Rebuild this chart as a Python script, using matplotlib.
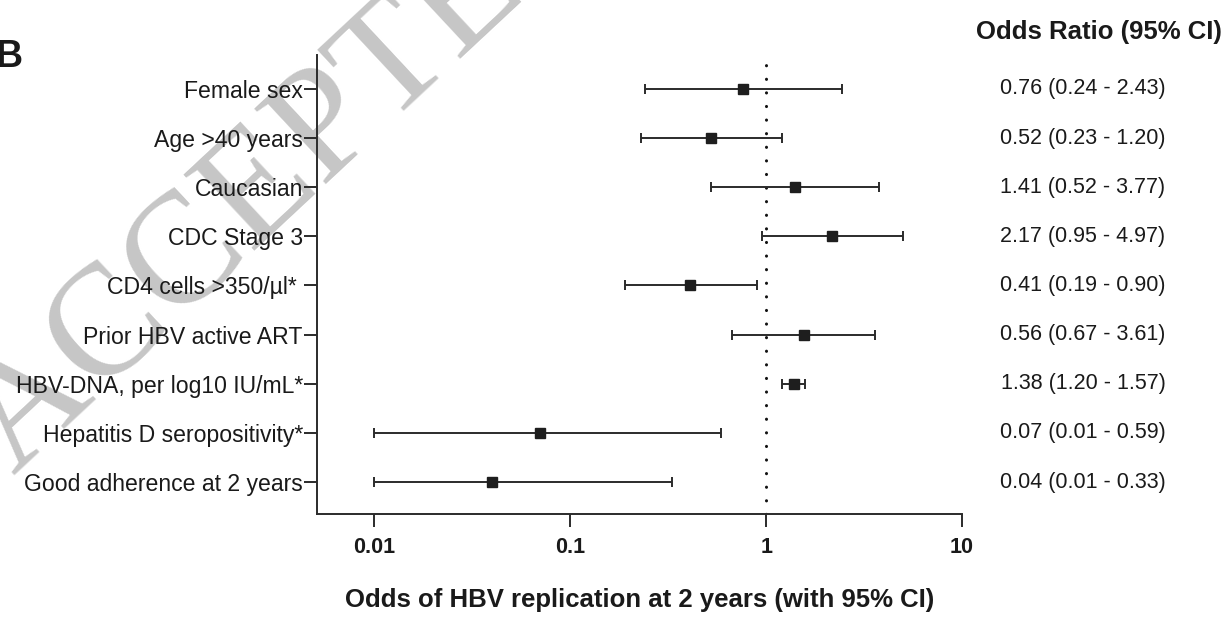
import matplotlib
matplotlib.use("Agg")
import matplotlib.pyplot as plt
import matplotlib.transforms as mtransforms
import numpy as np

plt.rcParams['font.family'] = ['Liberation Sans', 'DejaVu Sans']

# ---- data ----
factors = ["Female sex", "Age >40 years", "Caucasian", "CDC Stage 3",
           "CD4 cells >350/\u00b5l* ", "Prior HBV active ART",
           "HBV-DNA, per log10 IU/mL*", "Hepatitis D seropositivity*",
           "Good adherence at 2 years"]
odds = [0.76, 0.52, 1.41, 2.17, 0.41, 1.56, 1.38, 0.07, 0.04]
ci_low = [0.24, 0.23, 0.52, 0.95, 0.19, 0.67, 1.20, 0.01, 0.01]
ci_high = [2.43, 1.20, 3.77, 4.97, 0.90, 3.61, 1.57, 0.59, 0.33]
or_labels = ["0.76 (0.24 - 2.43)", "0.52 (0.23 - 1.20)", "1.41 (0.52 - 3.77)",
             "2.17 (0.95 - 4.97)", "0.41 (0.19 - 0.90)", "0.56 (0.67 - 3.61)",
             "1.38 (1.20 - 1.57)", "0.07 (0.01 - 0.59)", "0.04 (0.01 - 0.33)"]
xticks = [0.01, 0.1, 1, 10]
xtick_labels = ["0.01", "0.1", "1", "10"]

W, H = 1228, 618
fig = plt.figure(figsize=(W / 100, H / 100), dpi=100)
ax = fig.add_axes([316.7 / W, 1 - 514 / H, (962 - 316.7) / W, (514 - 55) / H])
ax.patch.set_visible(False)

ypos = np.arange(len(factors))
odds_a = np.array(odds)
xerr = np.vstack([odds_a - np.array(ci_low), np.array(ci_high) - odds_a])

ink = '#2b2b2b'
ax.axvline(1, color='#111111', lw=2.2, linestyle=(0, (0.05, 4.4)),
           dash_capstyle='round', zorder=1)
ax.errorbar(odds, ypos, xerr=xerr, fmt='none', ecolor=ink, elinewidth=1.4,
            capsize=3.8, capthick=1.4, zorder=2)
ax.plot(odds, ypos, 's', color='#1e1e1e', markersize=7.4, zorder=3)

ax.set_xscale('log')
ax.set_xlim(0.00507, 10)
ax.set_ylim(len(factors) - 1 + 0.65, -0.69)
ax.set_xticks(xticks)
ax.set_xticklabels(xtick_labels, fontsize=15.5, fontweight='bold', color='#1a1a1a')
ax.xaxis.set_minor_locator(matplotlib.ticker.NullLocator())
ax.set_yticks(ypos)
ax.set_yticklabels(factors, fontsize=16.6, color='#1a1a1a')

for s in ['top', 'right']:
    ax.spines[s].set_visible(False)
for s in ['left', 'bottom']:
    ax.spines[s].set_linewidth(1.4)
    ax.spines[s].set_color(ink)
ax.tick_params(axis='y', length=9.5, width=1.4, color=ink, pad=0.5)
ax.tick_params(axis='x', length=9, width=1.4, color=ink, pad=7.5)

ax.set_xlabel("Odds of HBV replication at 2 years (with 95% CI)",
              fontsize=18.5, fontweight='bold', color='#1a1a1a', labelpad=22)

# right-hand column
col_tr = mtransforms.blended_transform_factory(fig.transFigure, ax.transData)
for y, lab in zip(ypos, or_labels):
    ax.text(1083 / W, y, lab, transform=col_tr,
            ha='center', va='center', fontsize=15.5, color='#1a1a1a')
fig.text(1099 / W, 1 - 32 / H, "Odds Ratio (95% CI)", ha='center', va='center',
         fontsize=18.5, fontweight='bold', color='#1a1a1a')

fig.text(-5 / W, 1 - 57 / H, "B", ha='left', va='center', fontsize=27,
         fontweight='bold', color='#1a1a1a')

# watermark (behind everything)
fig.text(14 / W, 1 - 476 / H, "ACCEPTED MANUSCRIPT", rotation=43,
         rotation_mode='anchor', ha='left', va='baseline',
         family=['Liberation Serif', 'DejaVu Serif'], fontsize=114,
         color='#c6c6c6', zorder=-5)

fig.savefig("out.png", dpi=100)
